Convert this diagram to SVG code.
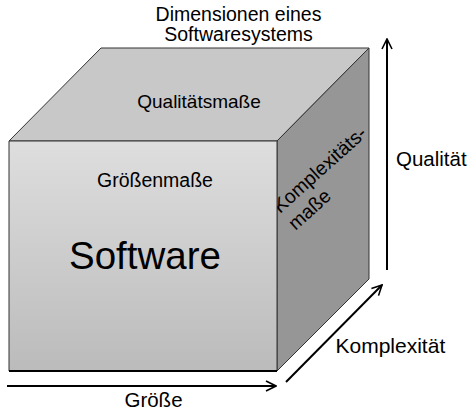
<svg xmlns="http://www.w3.org/2000/svg" width="470" height="413" viewBox="0 0 470 413">
<defs>
<linearGradient id="front" x1="0" y1="0" x2="0" y2="1">
<stop offset="0" stop-color="#dedede"/>
<stop offset="1" stop-color="#bbbbbb"/>
</linearGradient>
<marker id="open" viewBox="0 0 12 12" refX="11" refY="6" markerWidth="12" markerHeight="12" markerUnits="userSpaceOnUse" orient="auto">
<path d="M1,1 L11,6 L1,11" fill="none" stroke="#000" stroke-width="1.6"/>
</marker>
<style>
text{font-family:"Liberation Sans",Arial,sans-serif;fill:#000}
.face{stroke:#333;stroke-width:1;stroke-linejoin:round}
.ax{stroke:#000;stroke-width:2;fill:none}
</style>
</defs>
<text x="238.5" y="21" font-size="19.5" text-anchor="middle">Dimensionen eines</text>
<text x="238.5" y="41" font-size="19.5" text-anchor="middle">Softwaresystems</text>
<g id="cube">
<g id="top">
<polygon class="face" points="9,141 101,48 369,48 277,141" fill="#c8c8c8"/>
<text x="199" y="108" font-size="19" text-anchor="middle">Qualitätsmaße</text>
</g>
<g id="right">
<polygon class="face" points="277,141 369,48 369,279 277,371" fill="#969696"/>
<g transform="translate(280,214) rotate(-42)">
<text x="0" y="0" font-size="19.5">Komplexitäts-</text>
<text x="0" y="23" font-size="19.5">maße</text>
</g>
</g>
<g id="front-face">
<rect class="face" x="9" y="141" width="268" height="230" fill="url(#front)"/>
<line x1="9" y1="371" x2="277" y2="371" stroke="#000" stroke-width="2"/>
<text x="155" y="187" font-size="19.5" text-anchor="middle">Größenmaße</text>
<text x="145" y="269" font-size="38.5" text-anchor="middle">Software</text>
</g>
</g>
<g id="connectors">
<line class="ax" x1="7" y1="386" x2="276" y2="386" marker-end="url(#open)"/>
<line class="ax" x1="286" y1="382" x2="382" y2="285" marker-end="url(#open)"/>
<line class="ax" x1="387" y1="270" x2="387" y2="39" marker-end="url(#open)"/>
</g>
<text x="396" y="166" font-size="20.5">Qualität</text>
<text x="335.5" y="353" font-size="21">Komplexität</text>
<text x="153.5" y="407" font-size="20.5" text-anchor="middle">Größe</text>
</svg>
